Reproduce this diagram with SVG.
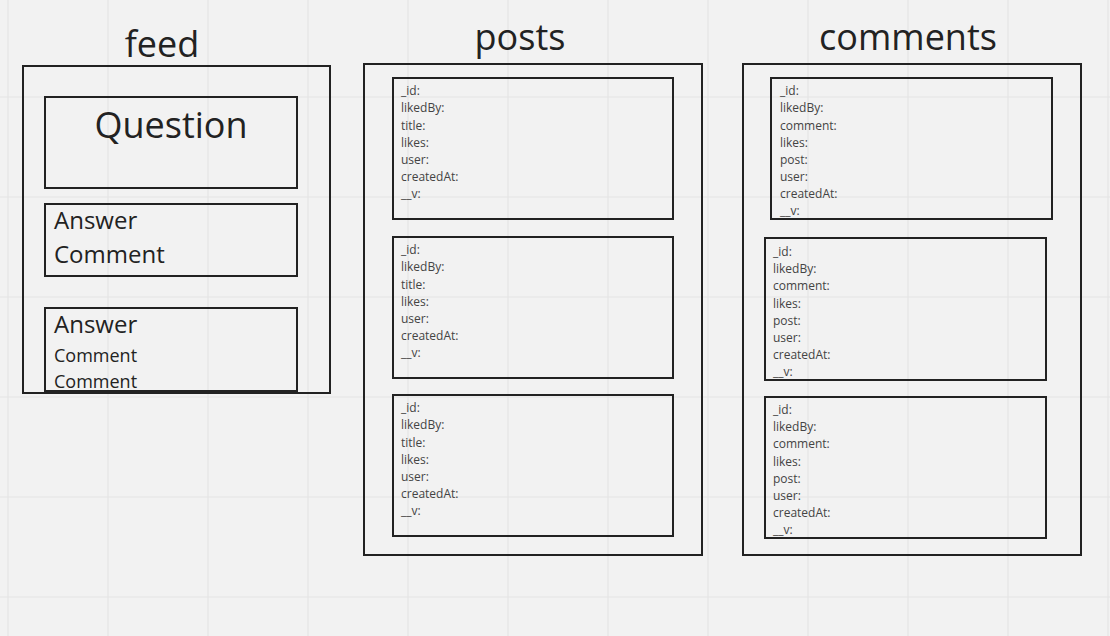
<svg xmlns="http://www.w3.org/2000/svg" width="1110" height="636" viewBox="0 0 1110 636">
<style>
.bg{fill:#f2f2f2}
.grid line{stroke:#e4e4e4;stroke-width:1.2}
.box{fill:none;stroke:#222;stroke-width:2}
.title{font-family:"Open Sans","Noto Sans",sans-serif;font-size:36px;fill:#222}
.big{font-family:"Open Sans","Noto Sans",sans-serif;font-size:24px;fill:#222}
.mid{font-family:"Open Sans","Noto Sans",sans-serif;font-size:18px;fill:#222}
.fld{font-family:"Open Sans","Noto Sans",sans-serif;font-size:12px;fill:#444}
</style>
<rect class="bg" x="0" y="0" width="1110" height="636"/>
<g class="grid">
<line x1="8" y1="0" x2="8" y2="636"/><line x1="108" y1="0" x2="108" y2="636"/><line x1="208" y1="0" x2="208" y2="636"/><line x1="308" y1="0" x2="308" y2="636"/><line x1="408" y1="0" x2="408" y2="636"/><line x1="508" y1="0" x2="508" y2="636"/><line x1="608" y1="0" x2="608" y2="636"/><line x1="708" y1="0" x2="708" y2="636"/><line x1="808" y1="0" x2="808" y2="636"/><line x1="908" y1="0" x2="908" y2="636"/><line x1="1008" y1="0" x2="1008" y2="636"/><line x1="1108" y1="0" x2="1108" y2="636"/>
<line x1="0" y1="97" x2="1110" y2="97"/><line x1="0" y1="197" x2="1110" y2="197"/><line x1="0" y1="297" x2="1110" y2="297"/><line x1="0" y1="397" x2="1110" y2="397"/><line x1="0" y1="497" x2="1110" y2="497"/><line x1="0" y1="597" x2="1110" y2="597"/>
</g>
<g id="feed">
<text class="title" x="162" y="57" text-anchor="middle">feed</text>
<rect class="box" x="23" y="66" width="307" height="327"/>
<g id="question">
<rect class="box" x="45" y="97" width="252" height="91"/>
<text class="title" x="171" y="138" text-anchor="middle">Question</text>
</g>
<g id="answer1">
<rect class="box" x="45" y="204" width="252" height="72"/>
<text class="big" x="54" y="229">Answer</text>
<text class="big" x="54" y="263">Comment</text>
</g>
<g id="answer2">
<text class="big" x="54" y="333">Answer</text>
<text class="mid" x="54" y="362">Comment</text>
<text class="mid" x="54" y="388">Comment</text>
<rect class="box" x="45" y="308" width="252" height="83"/>
</g>
</g>
<g id="posts">
<text class="title" x="520" y="50" text-anchor="middle">posts</text>
<rect class="box" x="364" y="64" width="338" height="491"/>
<g id="post1">
<rect class="box" x="393" y="78" width="280" height="141"/>
<text class="fld" x="401" y="95">_id:</text><text class="fld" x="401" y="112">likedBy:</text><text class="fld" x="401" y="130">title:</text><text class="fld" x="401" y="147">likes:</text><text class="fld" x="401" y="164">user:</text><text class="fld" x="401" y="181">createdAt:</text><text class="fld" x="401" y="198">__v:</text>
</g>
<g id="post2">
<rect class="box" x="393" y="237" width="280" height="141"/>
<text class="fld" x="401" y="254">_id:</text><text class="fld" x="401" y="271">likedBy:</text><text class="fld" x="401" y="289">title:</text><text class="fld" x="401" y="306">likes:</text><text class="fld" x="401" y="323">user:</text><text class="fld" x="401" y="340">createdAt:</text><text class="fld" x="401" y="357">__v:</text>
</g>
<g id="post3">
<rect class="box" x="393" y="395" width="280" height="141"/>
<text class="fld" x="401" y="412">_id:</text><text class="fld" x="401" y="429">likedBy:</text><text class="fld" x="401" y="447">title:</text><text class="fld" x="401" y="464">likes:</text><text class="fld" x="401" y="481">user:</text><text class="fld" x="401" y="498">createdAt:</text><text class="fld" x="401" y="515">__v:</text>
</g>
</g>
<g id="comments">
<text class="title" x="908" y="50" text-anchor="middle">comments</text>
<rect class="box" x="743" y="64" width="338" height="491"/>
<g id="comment1">
<text class="fld" x="780" y="95">_id:</text><text class="fld" x="780" y="112">likedBy:</text><text class="fld" x="780" y="130">comment:</text><text class="fld" x="780" y="147">likes:</text><text class="fld" x="780" y="164">post:</text><text class="fld" x="780" y="181">user:</text><text class="fld" x="780" y="198">createdAt:</text><text class="fld" x="780" y="215">__v:</text>
<rect class="box" x="771" y="78" width="281" height="141"/>
</g>
<g id="comment2">
<text class="fld" x="773" y="256">_id:</text><text class="fld" x="773" y="273">likedBy:</text><text class="fld" x="773" y="290">comment:</text><text class="fld" x="773" y="308">likes:</text><text class="fld" x="773" y="325">post:</text><text class="fld" x="773" y="342">user:</text><text class="fld" x="773" y="359">createdAt:</text><text class="fld" x="773" y="376">__v:</text>
<rect class="box" x="765" y="238" width="281" height="142"/>
</g>
<g id="comment3">
<text class="fld" x="773" y="414">_id:</text><text class="fld" x="773" y="431">likedBy:</text><text class="fld" x="773" y="448">comment:</text><text class="fld" x="773" y="466">likes:</text><text class="fld" x="773" y="483">post:</text><text class="fld" x="773" y="500">user:</text><text class="fld" x="773" y="517">createdAt:</text><text class="fld" x="773" y="534">__v:</text>
<rect class="box" x="765" y="397" width="281" height="141"/>
</g>
</g>
<g id="connectors"/>
</svg>
